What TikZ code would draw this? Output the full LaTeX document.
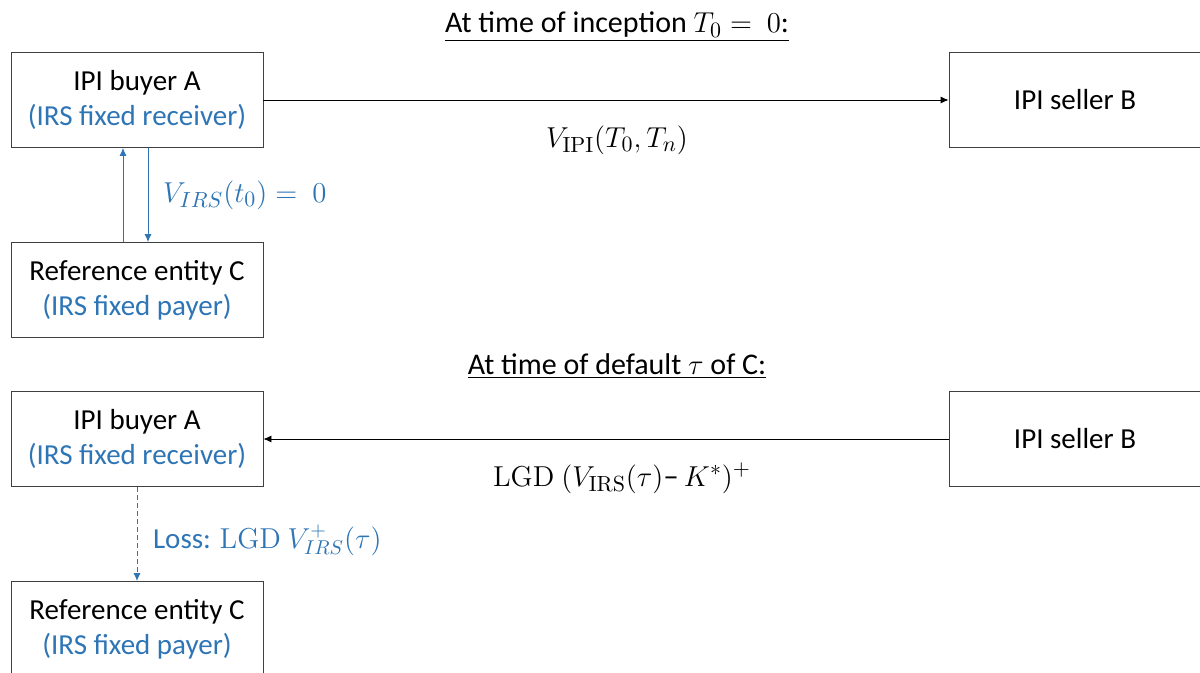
\documentclass[tikz,border=0pt]{standalone}
\usepackage[no-math]{fontspec}
\setmainfont{Carlito}
\usetikzlibrary{arrows.meta}
\definecolor{irsblue}{RGB}{46,117,182}
\definecolor{boxgray}{RGB}{64,64,64}
\tikzset{
  party/.style={draw=boxgray, thin, minimum width=126pt, minimum height=47.5pt,
    align=center, inner sep=0pt, font=\fontsize{14.5}{17.5}\selectfont},
  heading/.style={font=\fontsize{15}{18}\selectfont},
  payoff/.style={font=\fontsize{15.5}{18}\selectfont},
  flow/.style={-{Latex[length=4pt,width=3.5pt]}, thin},
}
\begin{document}
\begin{tikzpicture}[x=0.5pt, y=-0.5pt]
\useasboundingbox (0,0) rectangle (1200,673);
\clip (0,0) rectangle (1200,673);

% At inception
\node[heading] (head1) at (617,27) {\underline{At time of inception $T_0 =\ 0$:}};
\node[party] (buyer1) at (137,100) {IPI buyer A\\\textcolor{irsblue}{(IRS fixed receiver)}};
\node[party] (seller1) at (1075,100) {IPI seller B};
\node[party] (ref1) at (137,290) {Reference entity C\\\textcolor{irsblue}{(IRS fixed payer)}};

\draw[flow] (buyer1) -- (seller1);
\node[payoff] (prem) at (617,140) {$V_{\mathrm{IPI}}(T_0, T_n)$};

\draw[flow, irsblue] ([xshift=-7pt]ref1.north) -- ([xshift=-7pt]buyer1.south);
\draw[flow, irsblue] ([xshift=5.5pt]buyer1.south) -- ([xshift=5.5pt]ref1.north);
\node[payoff, irsblue, anchor=west] (swap) at (156,195) {$V_{IRS}(t_0) =\ 0$};

% At default of C
\node[heading] (head2) at (617,366) {\underline{At time of default $\tau$ of C:}};
\node[party] (buyer2) at (137,439) {IPI buyer A\\\textcolor{irsblue}{(IRS fixed receiver)}};
\node[party] (seller2) at (1075,439) {IPI seller B};
\node[party] (ref2) at (137,629) {Reference entity C\\\textcolor{irsblue}{(IRS fixed payer)}};

\draw[flow] (seller2) -- (buyer2);
\node[payoff] (prot) at (622,478) {$\mathrm{LGD}\ (V_{\mathrm{IRS}}(\tau)$--\,$K^{*})^{+}$};

\draw[flow, irsblue, dash pattern=on 2.5pt off 1.5pt, line width=0.5pt] (buyer2) -- (ref2);
\node[payoff, irsblue, anchor=west] (loss) at (146,540) {\fontsize{14.5}{17}\selectfont Loss: $\mathrm{LGD}\ V_{IRS}^{+}(\tau)$};
\end{tikzpicture}
\end{document}
